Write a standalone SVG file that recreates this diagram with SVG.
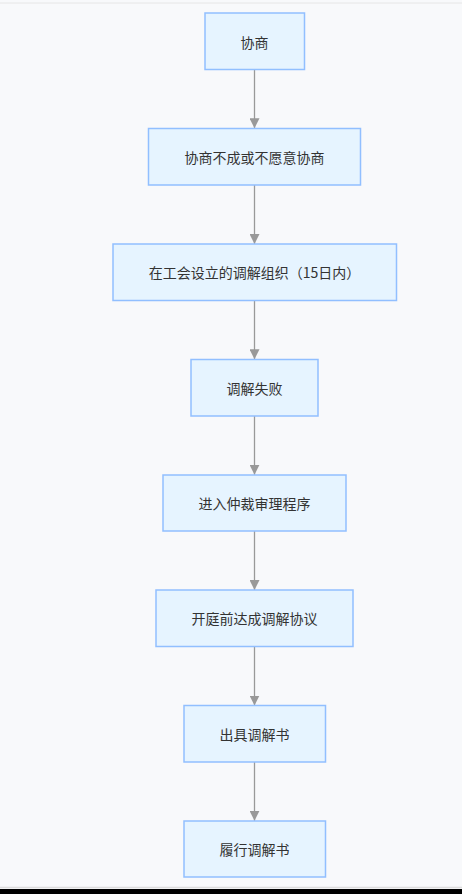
<svg xmlns="http://www.w3.org/2000/svg" width="462" height="894" viewBox="0 0 462 894">
<defs>
<style>
.n rect{fill:#e6f4ff;stroke:#91bfff;stroke-width:1.5}
.n text{font-family:"Noto Sans CJK SC","Liberation Sans",sans-serif;font-size:14px;fill:#333;text-anchor:middle;dominant-baseline:central}
.e line{stroke:#999;stroke-width:1.3}
</style>
<marker id="ah" viewBox="0 0 10 10" refX="10" refY="5" markerWidth="10" markerHeight="10" markerUnits="userSpaceOnUse" orient="auto">
<path d="M0,0 L10,5 L0,10 z" fill="#999"/>
</marker>
</defs>
<rect x="0" y="0" width="462" height="894" fill="#f8f9fb"/>
<line x1="0" y1="3" x2="462" y2="3" stroke="#e6e6e6" stroke-width="1"/>
<line x1="0" y1="887.5" x2="462" y2="887.5" stroke="#dcdcdc" stroke-width="1.5"/>
<rect x="0" y="889" width="462" height="5" fill="#000"/>
<g id="edges" class="e">
<line x1="254.5" y1="69.5" x2="254.5" y2="128.3" marker-end="url(#ah)"/>
<line x1="254.5" y1="185" x2="254.5" y2="244" marker-end="url(#ah)"/>
<line x1="254.5" y1="300.5" x2="254.5" y2="359.3" marker-end="url(#ah)"/>
<line x1="254.5" y1="415.8" x2="254.5" y2="474.7" marker-end="url(#ah)"/>
<line x1="254.5" y1="531" x2="254.5" y2="590" marker-end="url(#ah)"/>
<line x1="254.5" y1="646.5" x2="254.5" y2="705.5" marker-end="url(#ah)"/>
<line x1="254.5" y1="762" x2="254.5" y2="820.8" marker-end="url(#ah)"/>
</g>
<g id="n1" class="n"><rect x="205" y="13" width="99.5" height="56.5"/><text x="254.5" y="41.5">协商</text></g>
<g id="n2" class="n"><rect x="148.5" y="128.5" width="212" height="56.5"/><text x="254.5" y="157">协商不成或不愿意协商</text></g>
<g id="n3" class="n"><rect x="113" y="244" width="283.5" height="56.5"/><text x="254.5" y="272">在工会设立的调解组织（15日内）</text></g>
<g id="n4" class="n"><rect x="191" y="359.5" width="127" height="56.5"/><text x="254.5" y="388">调解失败</text></g>
<g id="n5" class="n"><rect x="163" y="475" width="183" height="56"/><text x="254.5" y="503">进入仲裁审理程序</text></g>
<g id="n6" class="n"><rect x="156" y="590" width="197" height="56.5"/><text x="254.5" y="618">开庭前达成调解协议</text></g>
<g id="n7" class="n"><rect x="184" y="705.5" width="141.5" height="56.5"/><text x="254.5" y="734">出具调解书</text></g>
<g id="n8" class="n"><rect x="184" y="821" width="141.5" height="56"/><text x="254.5" y="849">履行调解书</text></g>
</svg>
